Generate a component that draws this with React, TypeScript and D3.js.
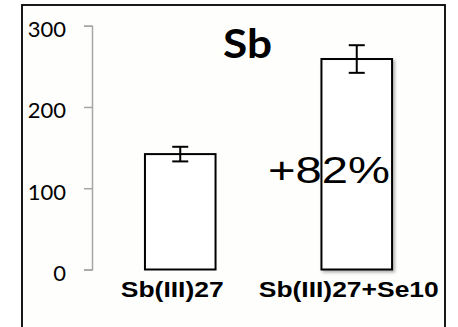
import React, { useEffect, useRef } from 'react';
import * as d3 from 'd3';

// values
const categories = ['Sb(III)27', 'Sb(III)27+Se10'];
const means = [142, 259];
const errors = [9, 17];
const yTicks = [0, 100, 200, 300];
const title = 'Sb';
const note = '+82%';

const W = 458;
const H = 327;

const App = () => {
  const svgRef = useRef<SVGSVGElement>(null);

  useEffect(() => {
    const root = d3.select(svgRef.current);
    root.selectAll('*').remove();

    const svg = root.attr('width', W).attr('height', H);

    // drop shadow used on the taller bar
    svg.append('defs')
      .append('filter')
      .attr('id', 'shadow')
      .attr('x', '-20%').attr('y', '-20%')
      .attr('width', '140%').attr('height', '140%')
      .append('feDropShadow')
      .attr('dx', 2).attr('dy', 2)
      .attr('stdDeviation', 1.5)
      .attr('flood-color', '#000')
      .attr('flood-opacity', 0.3);

    // background + frame
    svg.append('rect')
      .attr('x', 0).attr('y', 0).attr('width', W).attr('height', H)
      .attr('fill', '#ffffff');
    svg.append('rect')
      .attr('x', 22).attr('y', 5)
      .attr('width', 423).attr('height', H + 10)
      .attr('fill', '#fefefd')
      .attr('stroke', '#000')
      .attr('stroke-width', 1.8);

    // scales
    const y = d3.scaleLinear().domain([0, 300]).range([269.5, 25.7]);
    const x = d3.scaleBand<string>()
      .domain(categories)
      .range([92, 445])
      .paddingInner(0.6)
      .paddingOuter(0.3);

    // y axis
    const yAxis = d3.axisLeft(y)
      .tickValues(yTicks)
      .tickSize(8)
      .tickPadding(18)
      .tickFormat(d3.format('d'));

    const gy = svg.append('g')
      .attr('transform', 'translate(92,0)')
      .call(yAxis);
    gy.select('.domain').attr('stroke', '#a6a6a6').attr('stroke-width', 1.5);
    gy.selectAll('.tick line').attr('stroke', '#a6a6a6').attr('stroke-width', 1.5);
    gy.selectAll('.tick text')
      .attr('fill', '#000')
      .attr('font-family', 'Lato, "Open Sans", sans-serif')
      .attr('font-size', 22)
      .attr('dy', '0.5em');

    // bars
    svg.selectAll('.bar')
      .data(means)
      .enter()
      .append('rect')
      .attr('class', 'bar')
      .attr('x', (d, i) => x(categories[i]) as number)
      .attr('y', d => y(d))
      .attr('width', x.bandwidth())
      .attr('height', d => y(0) - y(d))
      .attr('fill', '#fff')
      .attr('stroke', '#000')
      .attr('stroke-width', 2)
      .attr('filter', (d, i) => (i === 1 ? 'url(#shadow)' : null));

    // error bars
    const eb = svg.selectAll('.err')
      .data(means)
      .enter()
      .append('g')
      .attr('class', 'err')
      .attr('stroke', '#000')
      .attr('stroke-width', 2);
    const cx = (i: number) => (x(categories[i]) as number) + x.bandwidth() / 2;
    eb.append('line')
      .attr('x1', (d, i) => cx(i)).attr('x2', (d, i) => cx(i))
      .attr('y1', (d, i) => y(d + errors[i])).attr('y2', (d, i) => y(d - errors[i]));
    eb.append('line')
      .attr('x1', (d, i) => cx(i) - 8).attr('x2', (d, i) => cx(i) + 8)
      .attr('y1', (d, i) => y(d + errors[i])).attr('y2', (d, i) => y(d + errors[i]));
    eb.append('line')
      .attr('x1', (d, i) => cx(i) - 8).attr('x2', (d, i) => cx(i) + 8)
      .attr('y1', (d, i) => y(d - errors[i])).attr('y2', (d, i) => y(d - errors[i]));

    // category labels (bold, slightly wide as in the source)
    const labelWidths = [103, 180];
    svg.selectAll('.cat')
      .data(categories)
      .enter()
      .append('text')
      .attr('class', 'cat')
      .attr('x', (d, i) => cx(i) - 8)
      .attr('y', 297)
      .attr('text-anchor', 'middle')
      .attr('font-family', '"Liberation Sans", Arial, sans-serif')
      .attr('font-weight', 'bold')
      .attr('font-size', 22)
      .attr('textLength', (d, i) => labelWidths[i])
      .attr('lengthAdjust', 'spacingAndGlyphs')
      .text(d => d);

    // title
    svg.append('text')
      .attr('x', 223)
      .attr('y', 58)
      .attr('font-family', 'Lato, "Open Sans", sans-serif')
      .attr('font-weight', 'bold')
      .attr('font-size', 41)
      .attr('textLength', 49)
      .attr('lengthAdjust', 'spacingAndGlyphs')
      .text(title);

    // percentage note
    svg.append('text')
      .attr('x', 268)
      .attr('y', 183)
      .attr('font-family', '"Liberation Sans", Arial, sans-serif')
      .attr('font-size', 36)
      .attr('textLength', 122)
      .attr('lengthAdjust', 'spacingAndGlyphs')
      .text(note);
  }, []);

  return (
    <div style={{ position: 'fixed', left: 0, top: 0, width: W, height: H, overflow: 'hidden' }}>
      <svg ref={svgRef} style={{ display: 'block' }}></svg>
    </div>
  );
};

export default App;
